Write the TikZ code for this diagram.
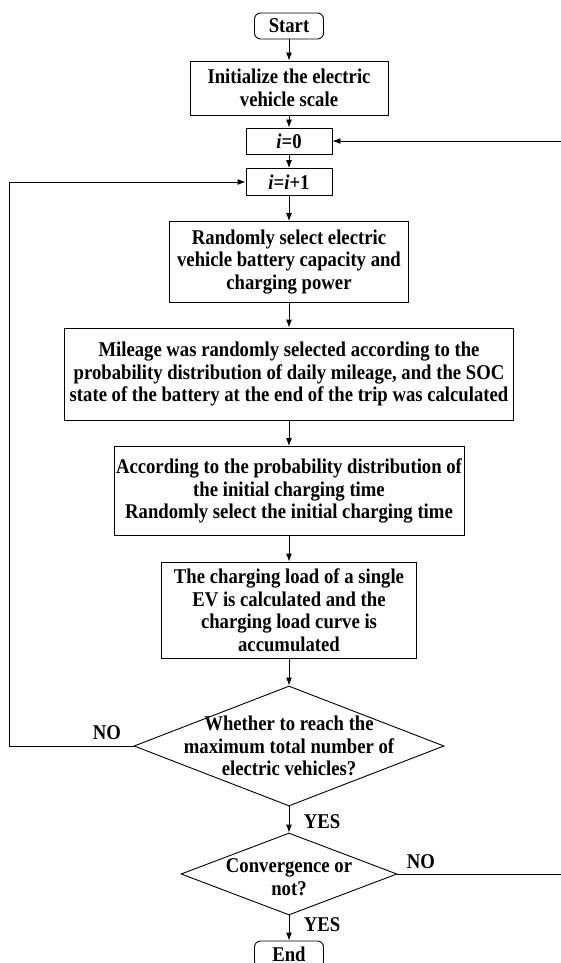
\documentclass[tikz,border=0pt]{standalone}
\usepackage{fontspec}
\setmainfont{Liberation Serif}[FakeStretch=0.89]
\usetikzlibrary{shapes.geometric,arrows.meta}

\begin{document}
\begin{tikzpicture}[x=1pt,y=-1pt,
  font=\fontsize{21}{22.5}\selectfont\bfseries,
  process/.style={draw,line width=0.9pt,align=center,inner sep=0pt},
  terminal/.style={process,rounded corners=6pt},
  decision/.style={draw,line width=0.9pt,diamond,inner sep=0pt},
  arr/.style={-{Latex[length=8pt,width=6pt]},line width=0.9pt},
  lbl/.style={inner sep=0pt}]
\useasboundingbox (0,0) rectangle (561,963);
\node[terminal,minimum width=69pt,minimum height=26pt] (start) at (289,26) {Start};
\node[process,minimum width=198pt,minimum height=54pt] (init) at (289,88) {Initialize the electric\\vehicle scale};
\node[process,minimum width=86pt,minimum height=26pt] (izero) at (289,141) {\textit{i}=0};
\node[process,minimum width=86pt,minimum height=27pt] (inext) at (289,182) {\textit{i}=\textit{i}+1};
\node[process,minimum width=239pt,minimum height=81pt] (rand) at (289,262) {Randomly select electric\\vehicle battery capacity and\\charging power};
\node[process,minimum width=449pt,minimum height=92pt] (mile) at (289,374) {Mileage was randomly selected according to the\\probability distribution of daily mileage, and the SOC\\state of the battery at the end of the trip was calculated};
\node[process,minimum width=350pt,minimum height=89pt] (prob) at (289,491) {According to the probability distribution of\\the initial charging time\\Randomly select the initial charging time};
\node[process,minimum width=255pt,minimum height=96pt] (load) at (289,610) {The charging load of a single\\EV is calculated and the\\charging load curve is\\accumulated};
\node[decision,minimum width=310pt,minimum height=120pt,label={[align=center]center:Whether to reach the\\maximum total number of\\electric vehicles?}] (reach) at (289,746) {};
\node[decision,minimum width=216pt,minimum height=82pt,label={[align=center,yshift=-3pt]center:Convergence or\\not?}] (conv) at (289,874) {};
\node[terminal,minimum width=69pt,minimum height=26pt] (end) at (289,954) {End};
\coordinate (loopL) at (9,182);
\coordinate (loopR) at (566,141);
\draw[arr] (start) -- (init);
\draw[arr] (init) -- (izero);
\draw[arr] (izero) -- (inext);
\draw[arr] (inext) -- (rand);
\draw[arr] (rand) -- (mile);
\draw[arr] (mile) -- (prob);
\draw[arr] (prob) -- (load);
\draw[arr] (load) -- (reach);
\draw[arr] (reach) -- (conv);
\draw[arr] (conv) -- (end);
\draw[arr] (reach.west) -| (loopL) -- (inext.west);
\draw[arr] (conv.east) -| (loopR) -- (izero.east);
\node[lbl] (no1) at (107,733) {NO};
\node[lbl] (yes1) at (322,822) {YES};
\node[lbl] (no2) at (421,862) {NO};
\node[lbl] (yes2) at (322,925) {YES};
\end{tikzpicture}
\end{document}
